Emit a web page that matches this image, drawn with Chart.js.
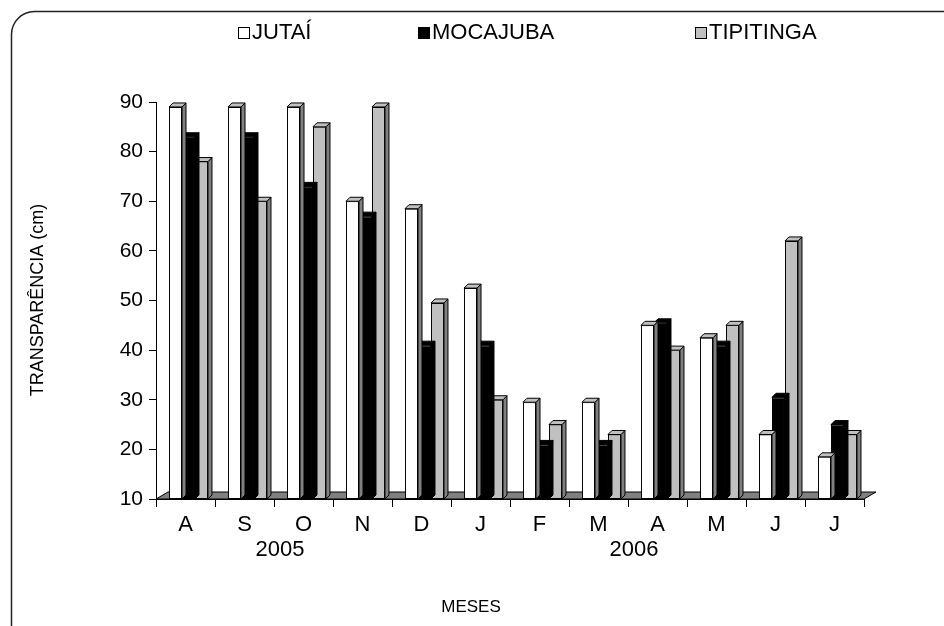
<!DOCTYPE html>
<html>
<head>
<meta charset="utf-8">
<script src="https://cdn.jsdelivr.net/npm/chart.js@4.4.1/dist/chart.umd.min.js"></script>
<style>
  html, body { margin: 0; padding: 0; background: #fff; }
  #wrap { width: 944px; height: 626px; }
</style>
</head>
<body>
<div id="wrap"><canvas id="chart" width="944" height="626"></canvas></div>
<script>
// months Aug 2005 - Jul 2006
const months = ['A', 'S', 'O', 'N', 'D', 'J', 'F', 'M', 'A', 'M', 'J', 'J'];
const yearLabels = ['2005', '2006'];
const yearAt = [1.6, 7.6]; // category position where each year label sits

// transparency (cm)
const jutai = [89, 89, 89, 70, 68.5, 52.5, 29.5, 29.5, 45, 42.5, 23, 18.5];
const mocajuba = [83, 83, 73, 67, 41, 41, 21, 21, 45.5, 41, 30.5, 25];
const tipitinga = [78, 70, 85, 89, 49.5, 30, 25, 23, 40, 45, 62, 23];

const yTicks = [10, 20, 30, 40, 50, 60, 70, 80, 90];

const FONT = '"Liberation Sans", Arial, sans-serif';
const DEPTH = 4;   // bar depth in px
const SHIFT = 3;   // bars sit a little right of category centre

const faces = [
    { front: '#ffffff', side: '#808080', top: '#c0c0c0' },
    { front: '#000000', side: '#000000', top: '#000000' },
    { front: '#c0c0c0', side: '#808080', top: '#c0c0c0' }
];

function poly(ctx, pts, fill) {
    ctx.beginPath();
    ctx.moveTo(pts[0][0], pts[0][1]);
    for (let i = 1; i < pts.length; i++) ctx.lineTo(pts[i][0], pts[i][1]);
    ctx.closePath();
    ctx.fillStyle = fill;
    ctx.fill();
    ctx.stroke();
}

// fake 3d: floor, bar sides and caps
const bars3d = {
    id: 'bars3d',
    beforeDatasetsDraw(chart) {
        const { ctx, chartArea: a } = chart;
        ctx.save();
        ctx.lineWidth = 1;
        ctx.strokeStyle = '#000';
        poly(ctx, [[a.left, a.bottom], [a.left + 12, a.bottom - 7], [a.right + 12, a.bottom - 7], [a.right, a.bottom]], '#808080');
        ctx.restore();
        ctx.save();
        ctx.translate(SHIFT, 0);
    },
    afterDatasetDraw(chart, args) {
        const { ctx, chartArea: a } = chart;
        const f = faces[args.index];
        ctx.save();
        ctx.lineWidth = 1;
        ctx.strokeStyle = '#000';
        args.meta.data.forEach(bar => {
            const l = bar.x - bar.width / 2, r = bar.x + bar.width / 2;
            const t = bar.y, b = Math.min(bar.base, a.bottom);
            poly(ctx, [[r, t], [r + DEPTH, t - DEPTH], [r + DEPTH, b - DEPTH], [r, b]], f.side);
            poly(ctx, [[l, t], [l + DEPTH, t - DEPTH], [r + DEPTH, t - DEPTH], [r, t]], f.top);
            // close the bottom edge of the front face
            ctx.beginPath();
            ctx.moveTo(l, b - 0.5);
            ctx.lineTo(r, b - 0.5);
            ctx.stroke();
        });
        ctx.restore();
    },
    afterDatasetsDraw(chart) {
        chart.ctx.restore();
    }
};

// frame, legend, axis titles and year labels
const decor = {
    id: 'decor',
    afterDraw(chart) {
        const { ctx, scales } = chart;
        ctx.save();
        // rounded frame
        ctx.strokeStyle = '#222';
        ctx.lineWidth = 1.5;
        ctx.beginPath();
        ctx.roundRect(11.5, 11.5, 960, 660, 23);
        ctx.stroke();

        // legend
        const legendX = [238, 418, 695];
        ctx.font = '22px ' + FONT;
        ctx.textBaseline = 'middle';
        ctx.textAlign = 'left';
        chart.data.datasets.forEach((ds, i) => {
            ctx.fillStyle = ds.backgroundColor;
            ctx.strokeStyle = '#000';
            ctx.lineWidth = 1;
            ctx.fillRect(legendX[i] + 0.5, 27.5, 11, 11);
            ctx.strokeRect(legendX[i] + 0.5, 27.5, 11, 11);
            ctx.fillStyle = '#000';
            ctx.fillText(ds.label, legendX[i] + 14, 33);
        });

        // y title
        ctx.save();
        ctx.translate(38, 300);
        ctx.rotate(-Math.PI / 2);
        ctx.textAlign = 'center';
        ctx.font = '18px ' + FONT;
        ctx.fillText('TRANSPARÊNCIA (cm)', 0, 0);
        ctx.restore();

        // years
        ctx.textAlign = 'center';
        ctx.font = '22px ' + FONT;
        yearLabels.forEach((y, i) => {
            ctx.fillText(y, scales.x.getPixelForValue(yearAt[i]), 550);
        });

        // x title
        ctx.font = '17px ' + FONT;
        ctx.fillText('MESES', 471, 607);
        ctx.restore();
    }
};

new Chart(document.getElementById('chart'), {
    type: 'bar',
    data: {
        labels: months,
        datasets: [
            { label: 'JUTAÍ', data: jutai, backgroundColor: faces[0].front },
            { label: 'MOCAJUBA', data: mocajuba, backgroundColor: faces[1].front },
            { label: 'TIPITINGA', data: tipitinga, backgroundColor: faces[2].front }
        ].map(d => Object.assign(d, {
            borderColor: '#000',
            borderWidth: 1,
            borderSkipped: false,
            categoryPercentage: 0.66,
            barPercentage: 1.0
        }))
    },
    options: {
        responsive: false,
        animation: false,
        devicePixelRatio: 1,
        layout: { padding: { top: 102, right: 80, left: 0, bottom: 0 } },
        plugins: {
            legend: { display: false },
            tooltip: { enabled: false }
        },
        scales: {
            y: {
                min: 10,
                max: 90,
                afterFit(scale) { scale.width = 156; },
                afterBuildTicks(scale) { scale.ticks = yTicks.map(v => ({ value: v })); },
                ticks: { color: '#000', padding: 6, font: { family: FONT, size: 21 } },
                grid: { drawOnChartArea: false, tickLength: 7, color: '#000' },
                border: { color: '#000', width: 1 }
            },
            x: {
                afterFit(scale) { scale.height = 127; },
                ticks: { color: '#000', padding: 5, font: { family: FONT, size: 22 } },
                grid: { drawOnChartArea: false, tickLength: 8, color: '#000', offset: true },
                border: { color: '#000', width: 1 }
            }
        }
    },
    plugins: [bars3d, decor]
});
</script>
</body>
</html>
